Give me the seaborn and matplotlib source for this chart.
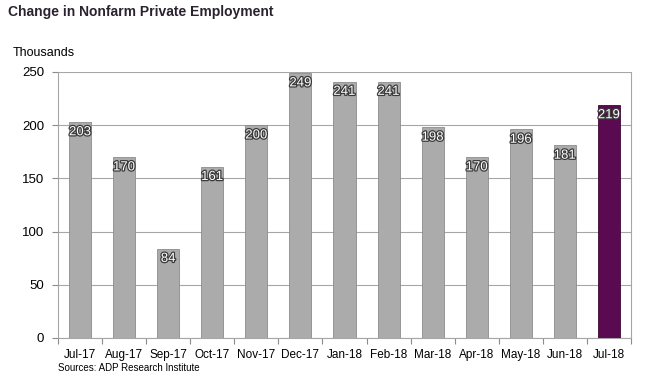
import matplotlib
matplotlib.use("Agg")
import matplotlib.pyplot as plt
import matplotlib.patheffects as pe
import seaborn as sns
import pandas as pd

months = ["Jul-17", "Aug-17", "Sep-17", "Oct-17", "Nov-17", "Dec-17", "Jan-18",
          "Feb-18", "Mar-18", "Apr-18", "May-18", "Jun-18", "Jul-18"]
values = [203, 170, 84, 161, 200, 249, 241, 241, 198, 170, 196, 181, 219]
yticks = [0, 50, 100, 150, 200, 250]

sns.set_theme(style="white")
plt.rcParams['font.family'] = ['Liberation Sans', 'DejaVu Sans']

df = pd.DataFrame({"month": months, "value": values})
colors = ["#ababab"] * (len(months) - 1) + ["#5a0a50"]

fig = plt.figure(figsize=(6.51, 3.83), dpi=100)
ax = fig.add_axes([58/651, 1-338/383, (631-58)/651, (338-72)/383])

sns.barplot(data=df, x="month", y="value", hue="month", palette=colors,
            legend=False, width=0.5, ax=ax, saturation=1, zorder=3)
for p, c in zip(ax.patches, colors):
    p.set_edgecolor("#8c8c8c" if c == "#ababab" else "#3d0636")
    p.set_linewidth(0.6)

ax.set_ylim(0, 250)
ax.set_xlim(-0.5, len(months) - 0.5)
ax.set_yticks(yticks)
ax.set_yticklabels([str(t) for t in yticks], fontsize=9.5, color="black")
ax.yaxis.grid(True, color="#a6a6a6", linewidth=0.8, zorder=0)
ax.set_axisbelow(True)
ax.set_xlabel("")
ax.set_ylabel("")

ax.set_xticks(range(len(months)))
ax.set_xticklabels(months, fontsize=8.5, color="black")
ax.tick_params(axis="x", length=0, pad=8)
ax.tick_params(axis="y", length=4, width=0.8, color="#8c8c8c", left=True, pad=6)
ax.set_xticks([i - 0.5 for i in range(len(months) + 1)], minor=True)
ax.tick_params(axis="x", which="minor", length=4, width=0.8, color="#8c8c8c", bottom=True, direction="out")

ax.spines["top"].set_visible(False)
for side in ["left", "bottom", "right"]:
    ax.spines[side].set_visible(True)
    ax.spines[side].set_color("#a6a6a6")
    ax.spines[side].set_linewidth(0.8)

for i, v in enumerate(values):
    ax.text(i, v - 4, str(v), ha="center", va="top", fontsize=9.5, color="white",
            path_effects=[pe.withStroke(linewidth=1.8, foreground="#3a3a3a")], zorder=5)

fig.text(8/651, 1-12/383, "Change in Nonfarm Private Employment", fontsize=10,
         fontweight="bold", color="#2b2230", ha="left", va="center")
fig.text(13/651, 1-53/383, "Thousands", fontsize=9, color="black", ha="left", va="center")
fig.text(58/651, 1-368/383, "Sources: ADP Research Institute", fontsize=7, color="black",
         ha="left", va="center")

fig.savefig("out.png", dpi=100)
